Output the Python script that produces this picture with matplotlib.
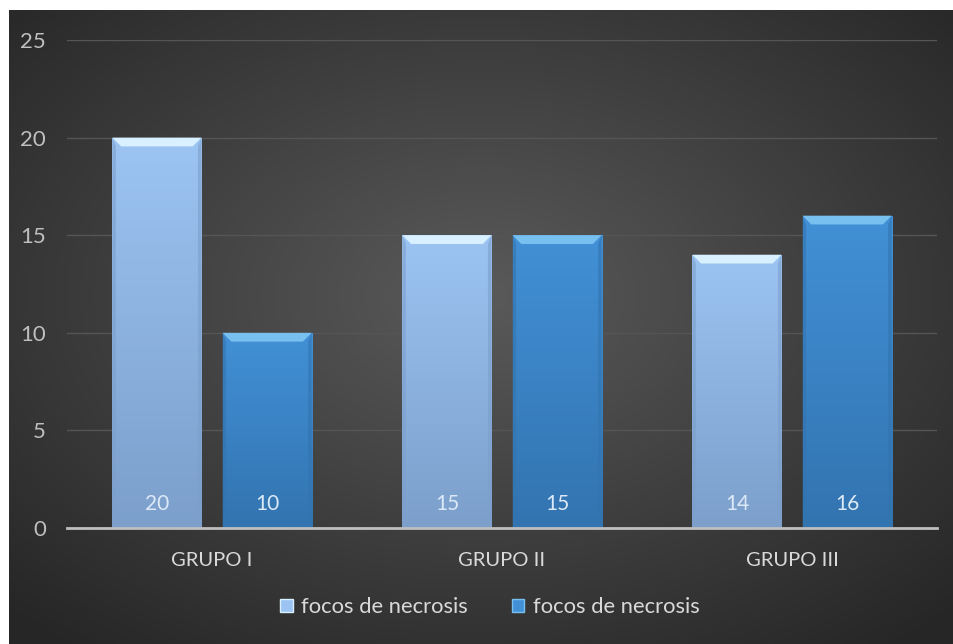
import matplotlib.pyplot as plt
import numpy as np
from matplotlib.patches import Patch, Polygon
from matplotlib.colors import to_rgb

# datos
grupos = ['GRUPO I', 'GRUPO II', 'GRUPO III']
serie1 = [20, 15, 14]
serie2 = [10, 15, 16]
nombres = ['focos de necrosis', 'focos de necrosis']

plt.rcParams['font.family'] = ['Lato', 'DejaVu Sans']

fig = plt.figure(figsize=(9.54, 6.44), dpi=100)
fig.patch.set_facecolor('white')

# fondo con degradado radial
bg = fig.add_axes([9 / 954, 0, 1 - 9 / 954, 634 / 644])
yy, xx = np.mgrid[0:1:300j, 0:1:450j]
r = np.sqrt(((xx - 0.5) / 0.75) ** 2 + ((yy - 0.55) / 0.75) ** 2)
r = np.clip(r / 0.95, 0, 1)
c_center = np.array([0x5a, 0x5a, 0x5a]) / 255
c_edge = np.array([0x26, 0x26, 0x26]) / 255
img = c_center[None, None, :] * (1 - r[..., None]) + c_edge[None, None, :] * r[..., None]
bg.imshow(img, aspect='auto', extent=[0, 1, 0, 1], origin='lower')
bg.axis('off')

ax = fig.add_axes([67 / 954, 1 - 528 / 644, (937 - 67) / 954, (528 - 40) / 644])
ax.patch.set_alpha(0)

x = np.arange(len(grupos))
w = 0.307
off = 0.19

colores = [('#9cc4f2', '#7c9fcb', '#d8f0ff'), ('#4290d6', '#3274b0', '#78c0f0')]
label_col = ['#dce9f7', '#dce9f7']

for k, (vals, (ctop, cbot, chi)) in enumerate(zip([serie1, serie2], colores)):
    pos = x - off if k == 0 else x + off
    bars = ax.bar(pos, vals, width=w, color=ctop, edgecolor='none', zorder=3)
    for b, v in zip(bars, vals):
        x0 = b.get_x()
        x1 = x0 + b.get_width()
        # degradado vertical dentro de la barra
        grad = np.linspace(0, 1, 100)[:, None]
        c1 = np.array(to_rgb(cbot))
        c2 = np.array(to_rgb(ctop))
        g = c1[None, None, :] * (1 - grad[..., None]) + c2[None, None, :] * grad[..., None]
        g = np.repeat(g, 2, axis=1)
        im = ax.imshow(g, extent=[x0, x1, 0, v], origin='lower', aspect='auto', zorder=4)
        im.set_clip_path(b)
        # bisel superior
        bev = 0.45
        dx = 0.03
        top = Polygon([[x0, v], [x1, v], [x1 - dx, v - bev], [x0 + dx, v - bev]],
                      closed=True, facecolor=chi, edgecolor='none', zorder=5)
        ax.add_patch(top)
        # bordes laterales sombreados
        ax.add_patch(Polygon([[x0, 0], [x0, v], [x0 + dx * 0.4, v - bev], [x0 + dx * 0.4, 0]],
                             closed=True, facecolor=cbot, alpha=0.6, edgecolor='none', zorder=5))
        ax.add_patch(Polygon([[x1, 0], [x1, v], [x1 - dx * 0.4, v - bev], [x1 - dx * 0.4, 0]],
                             closed=True, facecolor=cbot, alpha=0.6, edgecolor='none', zorder=5))
        ax.text(b.get_x() + b.get_width() / 2, 1.25, str(v), ha='center', va='center',
                color=label_col[k], fontsize=15, zorder=6)

ax.set_xlim(-0.5, 2.5)
ax.set_ylim(0, 25)
ax.set_yticks(range(0, 26, 5))
ax.set_xticks(x)
ax.set_xticklabels(grupos)
ax.tick_params(axis='y', length=0, pad=15, labelcolor='#bfbfbf', labelsize=16)
ax.tick_params(axis='x', length=0, pad=17, labelcolor='#d9d9d9', labelsize=14.5)
ax.grid(axis='y', color='#555555', linewidth=1, zorder=0)
ax.set_axisbelow(True)
for s in ['top', 'right', 'left']:
    ax.spines[s].set_visible(False)
ax.spines['bottom'].set_color('#bfbfbf')
ax.spines['bottom'].set_linewidth(2)
ax.spines['bottom'].set_zorder(6)

handles = [Patch(facecolor=colores[0][0], edgecolor=colores[0][2]),
           Patch(facecolor=colores[1][0], edgecolor=colores[1][2])]
leg = fig.legend(handles, nombres, loc='center', bbox_to_anchor=(490 / 954, 1 - 607 / 644),
                 ncol=2, frameon=False, fontsize=15.8, labelcolor='#d9d9d9',
                 handlelength=0.55, handleheight=0.55, handletextpad=0.4, columnspacing=2.0)

fig.savefig('out.png', dpi=100, facecolor='white')
